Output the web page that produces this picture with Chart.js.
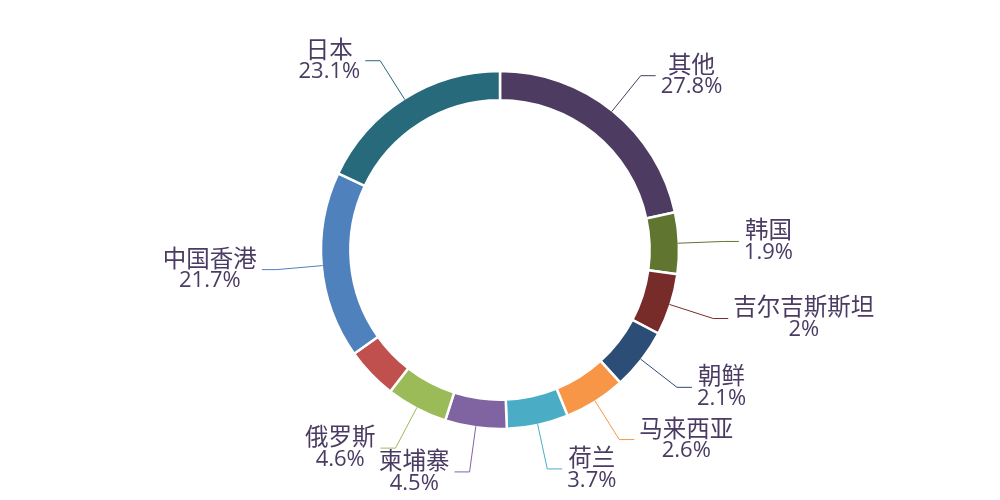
<!DOCTYPE html>
<html>
<head>
<meta charset="utf-8">
<script src="https://cdn.jsdelivr.net/npm/chart.js@4/dist/chart.umd.min.js"></script>
<style>
  html, body { margin: 0; padding: 0; background: #fff; }
  #wrap { width: 1000px; height: 500px; position: relative; }
</style>
</head>
<body>
<div id="wrap"><canvas id="shareChart"></canvas></div>
<script>
  // Slices clockwise from 12 o'clock (the red slice has no label in the source)
  const categories = ['其他', '韩国', '吉尔吉斯斯坦', '朝鲜', '马来西亚', '荷兰', '柬埔寨', '俄罗斯', '', '中国香港', '日本'];
  const shares = [27.8, 1.9, 2, 2.1, 2.6, 3.7, 4.5, 4.6, 6, 21.7, 23.1];   // percent
  const colors = ['#4d3b62', '#5f7530', '#772c2a', '#2c4d75', '#f79646', '#4bacc6', '#8064a2', '#9bbb59', '#c0504d', '#4f81bd', '#276a7c'];

  const MIN_ANGLE = 20;   // small slices are widened to this many degrees, rest shared out

  function sliceAngles(values, minAngle) {
    const sum = values.reduce((a, b) => a + b, 0);
    let rest = 360, largerSum = 0;
    const fixed = values.map(v => {
      if (v / sum * 360 < minAngle) { rest -= minAngle; return minAngle; }
      largerSum += v;
      return null;
    });
    return fixed.map((a, i) => a === null ? values[i] * rest / largerSum : a);
  }

  const nameFont = '23.5px "Noto Sans CJK SC", "Open Sans", sans-serif';
  const valueFont = '22px "Open Sans", "Noto Sans CJK SC", sans-serif';

  // outside labels with a radial + horizontal leader line
  const outsideLabels = {
    id: 'outsideLabels',
    afterDatasetsDraw(chart) {
      const ctx = chart.ctx;
      const arcs = chart.getDatasetMeta(0).data;
      ctx.save();
      ctx.textBaseline = 'middle';
      ctx.textAlign = 'center';
      arcs.forEach((arc, i) => {
        if (!categories[i]) return;
        const { x, y, startAngle, endAngle, outerRadius } = arc.getProps(['x', 'y', 'startAngle', 'endAngle', 'outerRadius'], true);
        const mid = (startAngle + endAngle) / 2;
        const dx = Math.cos(mid), dy = Math.sin(mid);
        const r = outerRadius - 1;
        const x1 = x + dx * r, y1 = y + dy * r;
        const x2 = x1 + dx * 46, y2 = y1 + dy * 46;
        const side = dx < 0 ? -1 : 1;
        const x3 = x2 + side * 15;

        ctx.strokeStyle = colors[i];
        ctx.lineWidth = 1;
        ctx.beginPath();
        ctx.moveTo(x1, y1);
        ctx.lineTo(x2, y2);
        ctx.lineTo(x3, y2);
        ctx.stroke();

        const name = categories[i], value = shares[i] + '%';
        ctx.font = nameFont;
        const wName = ctx.measureText(name).width;
        ctx.font = valueFont;
        const wValue = ctx.measureText(value).width;
        const w = Math.max(wName, wValue);
        const cx = side > 0 ? x3 + 5 + w / 2 : x3 - 5 - w / 2;
        ctx.fillStyle = '#4a3b63';
        ctx.font = nameFont;
        ctx.fillText(name, cx, y2 - 12);
        ctx.font = valueFont;
        ctx.fillText(value, cx, y2 + 11.5);
      });
      ctx.restore();
    }
  };

  const shareCtx = document.getElementById('shareChart').getContext('2d');
  new Chart(shareCtx, {
    type: 'doughnut',
    data: {
      labels: categories,
      datasets: [{
        data: sliceAngles(shares, MIN_ANGLE),
        backgroundColor: colors,
        borderColor: '#fff',
        borderWidth: 2.5
      }]
    },
    options: {
      responsive: true,
      maintainAspectRatio: false,
      animation: false,
      radius: 179,
      cutout: '83.6%',
      plugins: {
        legend: { display: false },
        tooltip: {
          callbacks: {
            label: (context) => `${context.label}: ${shares[context.dataIndex]}%`
          }
        }
      }
    },
    plugins: [outsideLabels]
  });
</script>
</body>
</html>
